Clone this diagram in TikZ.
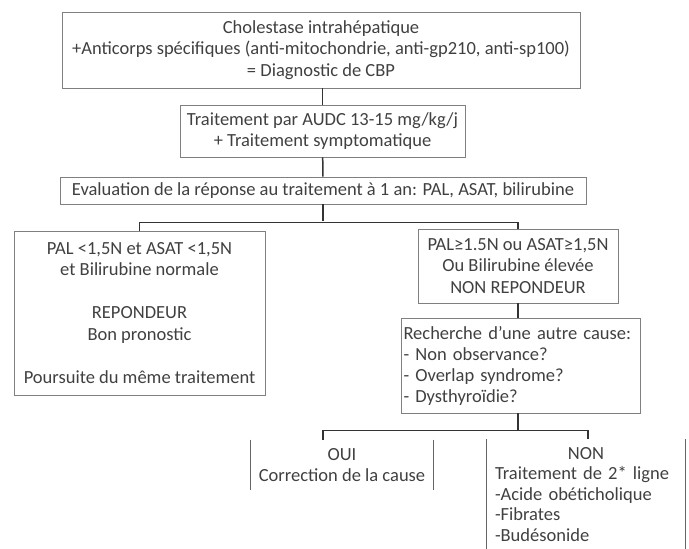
\documentclass[tikz,border=0pt]{standalone}
\usepackage{fontspec}
\setmainfont{Carlito}
\usetikzlibrary{positioning}

\begin{document}
\begin{tikzpicture}[x=1pt,y=-1pt,
  box/.style={draw=black!50, line width=0.9pt, text=black!75, align=center,
    inner sep=0pt, font=\fontsize{18.5}{21.5}\selectfont},
  side/.style={draw=black!60, line width=1.2pt},
  link/.style={draw=black!80, line width=1.5pt}]
% \draw [help lines,color=green] (0,0) grid[step=50] (689,549);
\useasboundingbox (0,0) rectangle (689,549);
\node[box, minimum width=518, minimum height=76] (cbp) at (321,50)
  {Cholestase intrahépatique\\
   +Anticorps spécifiques (anti-mitochondrie, anti-gp210, anti-sp100)\\
   = Diagnostic de CBP};
\node[box, minimum width=285, minimum height=52] (audc) at (322.5,131)
  {Traitement par AUDC 13-15 mg/kg/j\\ + Traitement symptomatique};
\node[box, minimum width=526, minimum height=27] (eval) at (323,190.5)
  {Evaluation de la réponse au traitement à 1 an: PAL, ASAT, bilirubine};
\node[box, minimum width=251, minimum height=164] (rep) at (139.5,313)
  {PAL <1,5N et ASAT <1,5N\\ et Bilirubine normale\\ \\
   REPONDEUR\\ Bon pronostic\\ \\ Poursuite du même traitement};
\node[box, minimum width=200, minimum height=74] (nonrep) at (518,266)
  {PAL≥1.5N ou ASAT≥1,5N\\ Ou Bilirubine élevée\\ NON REPONDEUR};
\node[box, align=left, text width=234, inner xsep=2.5, minimum height=95,
  font=\fontsize{18.5}{21}\selectfont] (cause) at (520.5,365.5)
  {Recherche d’une autre cause:\\ - Non observance?\\ - Overlap syndrome?\\ - Dysthyroïdie?};
% OUI / NON: only the sides show
\node[box, draw=none, minimum width=182, minimum height=50] (oui) at (342,465)
  {OUI\\ Correction de la cause};
\node[box, draw=none, align=left, text width=182, inner xsep=8, inner ysep=8,
  anchor=north, font=\fontsize{18.5}{20.5}\selectfont] (non) at (586,439)
  {\makebox[182pt]{NON}\\ Traitement de 2* ligne\\ -Acide obéticholique\\ -Fibrates\\ -Budésonide};
\draw[side] (oui.north west) -- (oui.south west);
\draw[side] (oui.north east) -- (oui.south east);
\draw[side] (non.north west) -- (non.north west |- 0,549);
\draw[side] (non.north east) -- (non.north east |- 0,549);
% links
\draw[link] (cbp.south -| audc.north) -- (audc.north);
\draw[link] (audc) -- (eval);
\coordinate (fork1) at ([yshift=-17]eval.south);
\draw[link] (eval.south) -- (fork1);
\draw[link] (rep.north) -- ++(0,-8) -| (nonrep.north);
\draw[link] (nonrep) -- (cause.north -| nonrep.south);
\coordinate (fork2) at ([yshift=-17]cause.south -| nonrep.south);
\draw[link] (cause.south -| nonrep.south) -- (fork2);
\draw[link] ([xshift=-19]oui.north) -- ++(0,-9) -| ([xshift=2]non.north);
\end{tikzpicture}
\end{document}
